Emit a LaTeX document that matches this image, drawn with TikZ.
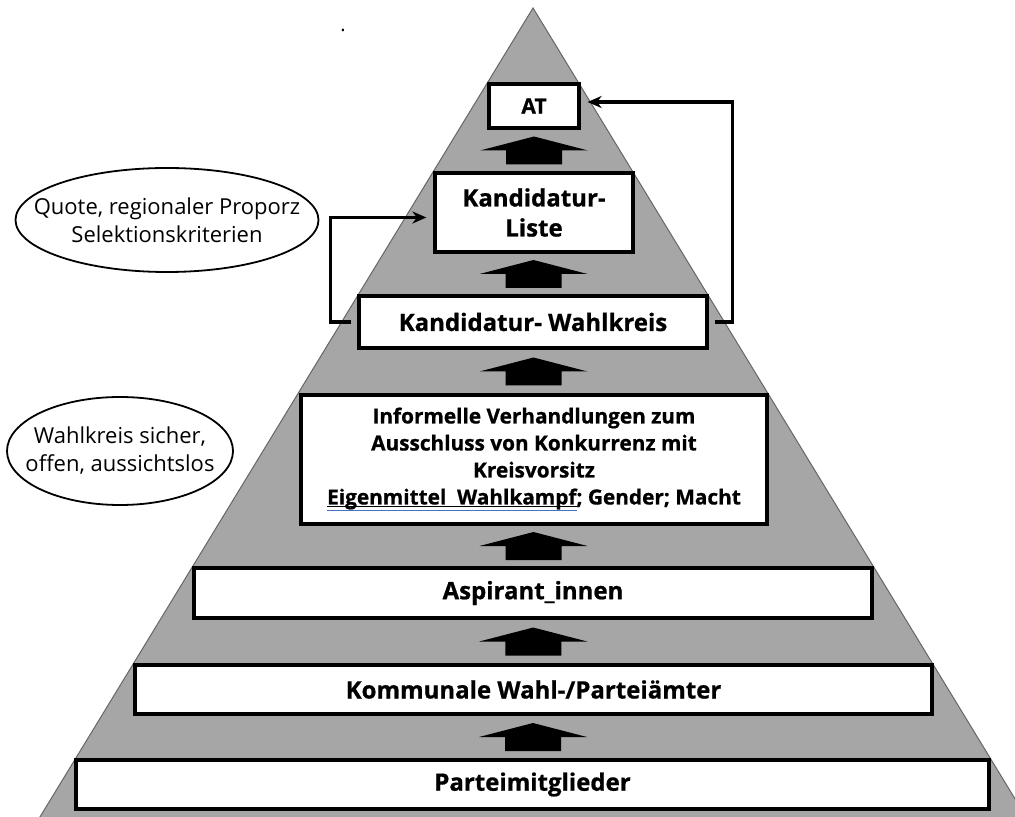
\documentclass[tikz,border=0pt]{standalone}
\usepackage{fontspec}
\setmainfont{Open Sans}[BoldFeatures={FakeBold=0.8}]
\usetikzlibrary{calc,arrows.meta}
\definecolor{pyramidgray}{RGB}{166,166,166}
\definecolor{spellblue}{RGB}{68,114,196}
\newcommand\spellmarked[1]{\sbox0{#1}%
  \rlap{\raisebox{-1.5pt}{\rule{\wd0}{0.5pt}}}%
  \rlap{\raisebox{-3.5pt}{\textcolor{spellblue}{\rule{\wd0}{0.6pt}}}}\usebox0}
\tikzset{
  stage/.style={draw, fill=white, line width=1.6pt, inner sep=0pt, align=center,
    font=\bfseries\fontsize{12}{15}\selectfont},
  remark/.style={inner sep=0pt, align=center, font=\fontsize{11}{14}\selectfont},
  rim/.style={line width=0.9pt},
  riser/.style={fill=black},
  loopback/.style={line width=1.6pt, -{Stealth[length=7pt,width=6pt]},
    shorten <=3pt, shorten >=3.5pt}
}
\begin{document}
\begin{tikzpicture}[x=0.5pt, y=-0.5pt]
\useasboundingbox (0,0) rectangle (1015,817);
% pyramid
\fill[pyramidgray, draw=gray!80!black, line width=0.5pt] (533,8) -- (1034,830) -- (32,830) -- cycle;
\node[anchor=base] (dot) at (343,32) {.};

% stages, bottom to top
\node[stage, minimum width=456.5pt, minimum height=24.5pt] (pm) at (532.5,784.5) {Parteimitglieder};
\node[stage, minimum width=398.5pt, minimum height=24.5pt] (kom) at (533.5,689.5) {Kommunale Wahl-/Parteiämter};
\node[stage, minimum width=339pt, minimum height=25pt] (asp) at (533,593) {Aspirant\_innen};
\node[stage, minimum width=233pt, minimum height=64.5pt, font=\bfseries\fontsize{10.4}{13.5}\selectfont] (inf) at (534,459.5)
  {Informelle Verhandlungen zum\\Ausschluss von Konkurrenz mit\\Kreisvorsitz\\
   \spellmarked{Eigenmittel\ \ Wahlkampf}; Gender; Macht};
\node[stage, minimum width=174pt, minimum height=26pt] (wk) at (533,322) {Kandidatur- Wahlkreis};
\node[stage, minimum width=99pt, minimum height=39.5pt] (lst) at (534,212.5) {Kandidatur-\\Liste};
\node[stage, minimum width=45pt, minimum height=22pt, font=\bfseries\fontsize{10.5}{13}\selectfont] (at) at (534,106) {AT};

% side remarks
\node[remark] (quote) at (167,220) {Quote, regionaler Proporz\\Selektionskriterien};
\draw[rim] (quote.center) ellipse [x radius=151.5, y radius=52];
\node[remark] (seat) at (120,451) {Wahlkreis sicher,\\offen, aussichtslos};
\draw[rim] (seat.center) ellipse [x radius=113, y radius=54];

% block arrows between the stages
\foreach \lo/\hi in {pm/kom,kom/asp,asp/inf,inf/wk,wk/lst,lst/at}
  \fill[riser, shift={($(\lo.north)!0.5!(\hi.south)$)}]
    (-28,14) -- (28,14) -- (28,0) -- (54,0) -- (0,-14) -- (-54,0) -- (-28,0) -- cycle;

% feedback lines
\draw[loopback] (wk.west) -- ++(-27,0) |- ([yshift=-2.5pt]lst.west);
\draw[loopback] (wk.east) -- ++(24,0) |- ([yshift=2pt]at.east);
\end{tikzpicture}
\end{document}
